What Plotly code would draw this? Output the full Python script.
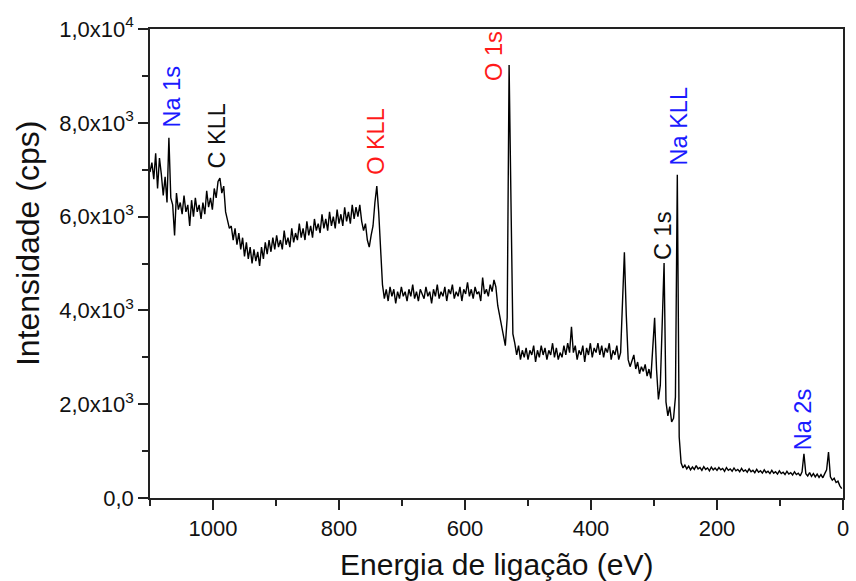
import plotly.graph_objects as go

# Binding energy grid (eV), descending in 3 eV steps from 1100
energy = list(range(1100, -1, -3))

# Intensity (cps)
intensity = [
    # 1100 -> 1073
    6950, 7150, 6800, 7350, 6600, 7250, 6900, 6450, 6850, 6300,
    # 1070 (Na 1s) -> 1055
    7680, 6400, 6250, 5600, 6500, 6150,
    # 1052 -> 1001
    6300, 6050, 6450, 6100, 6250, 5800, 6350, 6000, 6400, 6100,
    6250, 5950, 6300, 6050, 6550, 6200, 6400, 6150,
    # 998 -> 926 (C KLL and drop)
    6600, 6400, 6750, 6820, 6500, 6650, 6100, 5900, 5750, 5800,
    5500, 5750, 5400, 5650, 5300, 5550, 5150, 5450, 5100, 5350,
    5000, 5300, 5050, 5250, 4950,
    # 923 -> 764 (slow rise)
    5350, 5100, 5450, 5200, 5500, 5250, 5550, 5300, 5600, 5350,
    5500, 5300, 5700, 5400, 5550, 5350, 5750, 5450, 5650, 5500,
    5850, 5550, 5750, 5500, 5900, 5600, 5800, 5550, 5950, 5700,
    5850, 5650, 6050, 5750, 5950, 5700, 6100, 5800, 6000, 5750,
    6150, 5850, 6050, 5800, 6200, 5900, 6100, 5850, 6250, 5950,
    6200, 6000, 6250, 5900,
    # 761 -> 725 (O KLL)
    5700, 5850, 5500, 5350, 5600, 5800, 6300, 6650, 6100, 5200,
    4550, 4250, 4450,
    # 722 -> 548 plateau
    4200, 4500, 4300, 4450, 4150, 4400, 4250, 4500, 4300, 4400,
    4200, 4450, 4300, 4550, 4250, 4400, 4200, 4450, 4350, 4250,
    4500, 4300, 4400, 4150, 4450, 4300, 4550, 4250, 4400, 4300,
    4500, 4200, 4450, 4350, 4550, 4250, 4400, 4300, 4500, 4200,
    4450, 4350, 4600, 4300, 4450, 4250, 4500, 4350, 4400, 4200,
    4700, 4350, 4450, 4300, 4550, 4400, 4650, 4500, 4100,
    # 545 -> 509 (O 1s)
    3900, 3700, 3450, 3250, 3850, 9230, 6300, 3500, 3300, 3050,
    3250, 2950, 3150,
    # 506 -> 353
    3000, 3200, 2950, 3150, 3050, 3250, 2900, 3150, 3000, 3250,
    3050, 3200, 2950, 3150, 3050, 3300, 3000, 3200, 2950, 3100,
    3000, 3250, 3050, 3300, 3100, 3650, 3100, 3250, 2950, 3150,
    3050, 3250, 2900, 3200, 3050, 3300, 3000, 3200, 3100, 3300,
    3050, 3250, 3000, 3200, 3100, 3300, 2950, 3150, 3050, 3250,
    2950, 3100,
    # 350 -> 254 (Na KLL region, C 1s)
    4200, 5240, 3900, 2950, 2800, 2950, 3050, 2750, 2900, 2650,
    2800, 2700, 2850, 2600, 2750, 2550, 3200, 3840, 2750, 2100,
    2400, 3650, 5010, 2050, 1750, 1950, 1620, 1700, 2150, 6890,
    1300, 750, 640,
    # 251 -> 2
    700, 620, 680, 600, 660, 610, 690, 620, 650, 590,
    670, 610, 640, 580, 660, 600, 640, 590, 650, 600,
    630, 570, 650, 590, 620, 570, 640, 580, 610, 560,
    630, 570, 600, 550, 620, 560, 590, 540, 610, 550,
    580, 530, 600, 540, 570, 520, 590, 530, 560, 510,
    580, 520, 550, 500, 570, 510, 540, 490, 560, 500,
    530, 470, 560, 940, 520, 470, 540, 460, 520, 450,
    510, 440, 500, 430, 520, 600, 980, 450, 380, 420,
    330, 360, 260, 200,
]

n = min(len(energy), len(intensity))
energy = energy[:n]
intensity = intensity[:n]

# Peak labels: text, energy position, label base intensity, colour
label_text = ["Na 1s", "C KLL", "O KLL", "O 1s", "Na KLL", "C 1s", "Na 2s"]
label_x = [1065, 994, 741, 554, 261, 286, 64]
label_y = [7850, 6990, 6840, 8850, 7040, 5030, 980]
label_color = ["#1a1aff", "#111111", "#ff1a1a", "#ff1a1a", "#1a1aff", "#111111", "#1a1aff"]

y_tickvals = [0, 2000, 4000, 6000, 8000, 10000]
y_ticktext = ["0,0", "2,0x10<sup>3</sup>", "4,0x10<sup>3</sup>", "6,0x10<sup>3</sup>",
              "8,0x10<sup>3</sup>", "1,0x10<sup>4</sup>"]
x_tickvals = [0, 200, 400, 600, 800, 1000]
x_ticktext = ["0", "200", "400", "600", "800", "1000"]

FONT = "Liberation Sans, Arial, sans-serif"

fig = go.Figure()
fig.add_trace(go.Scatter(x=energy, y=intensity, mode="lines",
                         line=dict(color="black", width=1.4), showlegend=False))

annotations = []
for t, x, y, c in zip(label_text, label_x, label_y, label_color):
    annotations.append(dict(x=x, y=y, xref="x", yref="y", text=t, textangle=-90,
                            showarrow=False, xanchor="center", yanchor="bottom",
                            font=dict(family=FONT, size=23.5, color=c)))
annotations.append(dict(x=0.5, y=-0.142, xref="paper", yref="paper",
                        text="Energia de ligação (eV)", showarrow=False,
                        xanchor="center", yanchor="middle",
                        font=dict(family=FONT, size=30, color="#111")))
annotations.append(dict(x=-0.175, y=0.543, xref="paper", yref="paper",
                        text="Intensidade (cps)", textangle=-90, showarrow=False,
                        xanchor="center", yanchor="middle",
                        font=dict(family=FONT, size=32, color="#111")))

axis_common = dict(showline=True, linecolor="#222", linewidth=1.5, mirror=True,
                   ticks="outside", tickcolor="#222", tickwidth=1.5, ticklen=10,
                   showgrid=False, zeroline=False,
                   tickfont=dict(family=FONT, size=22, color="#111"))

fig.update_layout(
    width=856, height=581,
    margin=dict(l=150, r=7, t=29, b=83),
    paper_bgcolor="white", plot_bgcolor="white",
    xaxis=dict(range=[1100, 0], tickmode="array", tickvals=x_tickvals, ticktext=x_ticktext,
               minor=dict(ticks="outside", ticklen=6, tickwidth=1.5, tickcolor="#222",
                          dtick=100, tick0=0),
               **axis_common),
    yaxis=dict(range=[0, 10000], tickmode="array", tickvals=y_tickvals, ticktext=y_ticktext,
               minor=dict(ticks="outside", ticklen=6, tickwidth=1.5, tickcolor="#222",
                          dtick=1000, tick0=0),
               **axis_common),
    annotations=annotations,
)

fig.write_html("out.html")
